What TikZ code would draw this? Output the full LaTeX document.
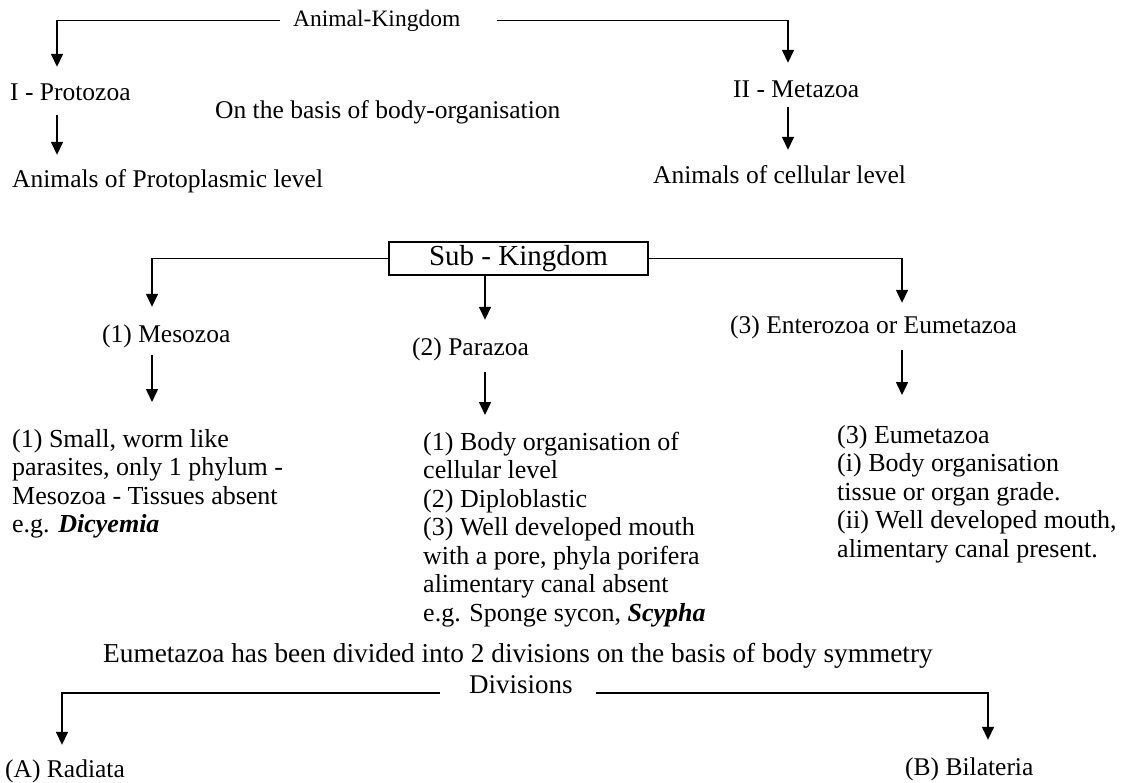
\documentclass[tikz,border=0pt]{standalone}
\usepackage{fontspec}
\setmainfont{Liberation Serif}
\usetikzlibrary{arrows.meta}
\tikzset{
    arr/.style={-{Triangle[width=12pt,length=13pt]}, line width=1.5pt},
    lbl/.style={anchor=base west, inner sep=0pt, font=\fontsize{25.5}{28.5}\selectfont,
        text height=17pt, text depth=6pt},
    blk/.style={anchor=north west, inner sep=0pt, align=left, font=\fontsize{26}{28.5}\selectfont},
    kbox/.style={draw, line width=1.3pt, inner sep=0pt, minimum width=259pt, minimum height=33pt,
        font=\fontsize{29}{30}\selectfont},
}

\begin{document}
\begin{tikzpicture}[x=1pt, y=-1pt]
    \useasboundingbox (0,0) rectangle (1126,782);
    % columns of the arrows
    \coordinate (xa) at (57,0);
    \coordinate (xb) at (788,0);
    \coordinate (xm) at (152,0);
    \coordinate (xp) at (485,0);
    \coordinate (xe) at (902,0);
    \coordinate (xr) at (62,0);
    \coordinate (xbl) at (988,0);

    \node[lbl, font=\fontsize{23.5}{28.5}\selectfont] (ak) at (293,26) {Animal-Kingdom};
    \node[lbl] (proto) at (10,100) {I - Protozoa};
    \node[lbl] (basis) at (215,118) {On the basis of body-organisation};
    \node[lbl] (ppl) at (12,187) {Animals of Protoplasmic level};
    \node[lbl] (meta) at (733,97) {II - Metazoa};
    \node[lbl] (acl) at (653,183) {Animals of cellular level};

    \node[kbox] (sk) at (518.5,258.5) {Sub - Kingdom};
    \node[lbl] (meso) at (102,342) {(1) Mesozoa};
    \node[lbl] (para) at (412,355) {(2) Parazoa};
    \node[lbl] (ente) at (730,333) {(3) Enterozoa or Eumetazoa};

    \node[blk] (mesob) at (12,427) {\strut(1) Small, worm like\\parasites, only 1 phylum -\\
        Mesozoa - Tissues absent\\e.g. \textbf{\textit{Dicyemia}}};
    \node[blk] (parab) at (423,430) {\strut(1) Body organisation of\\cellular level\\(2) Diploblastic\\
        (3) Well developed mouth\\with a pore, phyla porifera\\alimentary canal absent\\
        e.g. Sponge sycon, \textbf{\textit{Scypha}}};
    \node[blk] (eumb) at (837,423) {\strut(3) Eumetazoa\\(i) Body organisation\\tissue or organ grade.\\
        (ii) Well developed mouth,\\alimentary canal present.};

    \node[lbl, font=\fontsize{27.3}{30}\selectfont] (sent) at (103,662) {Eumetazoa has been divided into 2 divisions on the basis of body symmetry};
    \node[lbl, font=\fontsize{27}{30}\selectfont] (divs) at (469,693) {Divisions};
    \node[lbl] (rad) at (5,777) {(A) Radiata};
    \node[lbl] (bil) at (905,775) {(B) Bilateria};

    % kingdom
    \draw[arr, shorten <=13pt, shorten >=16pt] (ak.west) -| (proto.north -| xa);
    \draw[arr, shorten <=36pt, shorten >=17pt] (ak.east) -| (meta.north -| xb);
    \draw[arr, shorten <=9pt, shorten >=15pt] (proto.south -| xa) -- (ppl.north -| xa);
    \draw[arr, shorten <=4pt, shorten >=16pt] (meta.south -| xb) -- (acl.north -| xb);
    % sub-kingdom
    \draw[arr, shorten >=18pt] (sk.west) -| (meso.north -| xm);
    \draw[arr, shorten >=13pt] (sk.east) -| (ente.north -| xe);
    \draw[arr, shorten >=18pt] (sk.south -| xp) -- (para.north -| xp);
    \draw[arr, shorten <=7pt, shorten >=25pt] (meso.south -| xm) -- (mesob.north -| xm);
    \draw[arr, shorten <=11pt, shorten >=15pt] (para.south -| xp) -- (parab.north -| xp);
    \draw[arr, shorten <=11pt, shorten >=28pt] (ente.south -| xe) -- (eumb.north -| xe);
    % divisions
    \draw[arr, shorten <=29pt, shorten >=15pt] (divs.base west) -| (rad.north -| xr);
    \draw[arr, shorten <=23pt, shorten >=18pt] (divs.base east) -| (bil.north -| xbl);
\end{tikzpicture}
\end{document}
